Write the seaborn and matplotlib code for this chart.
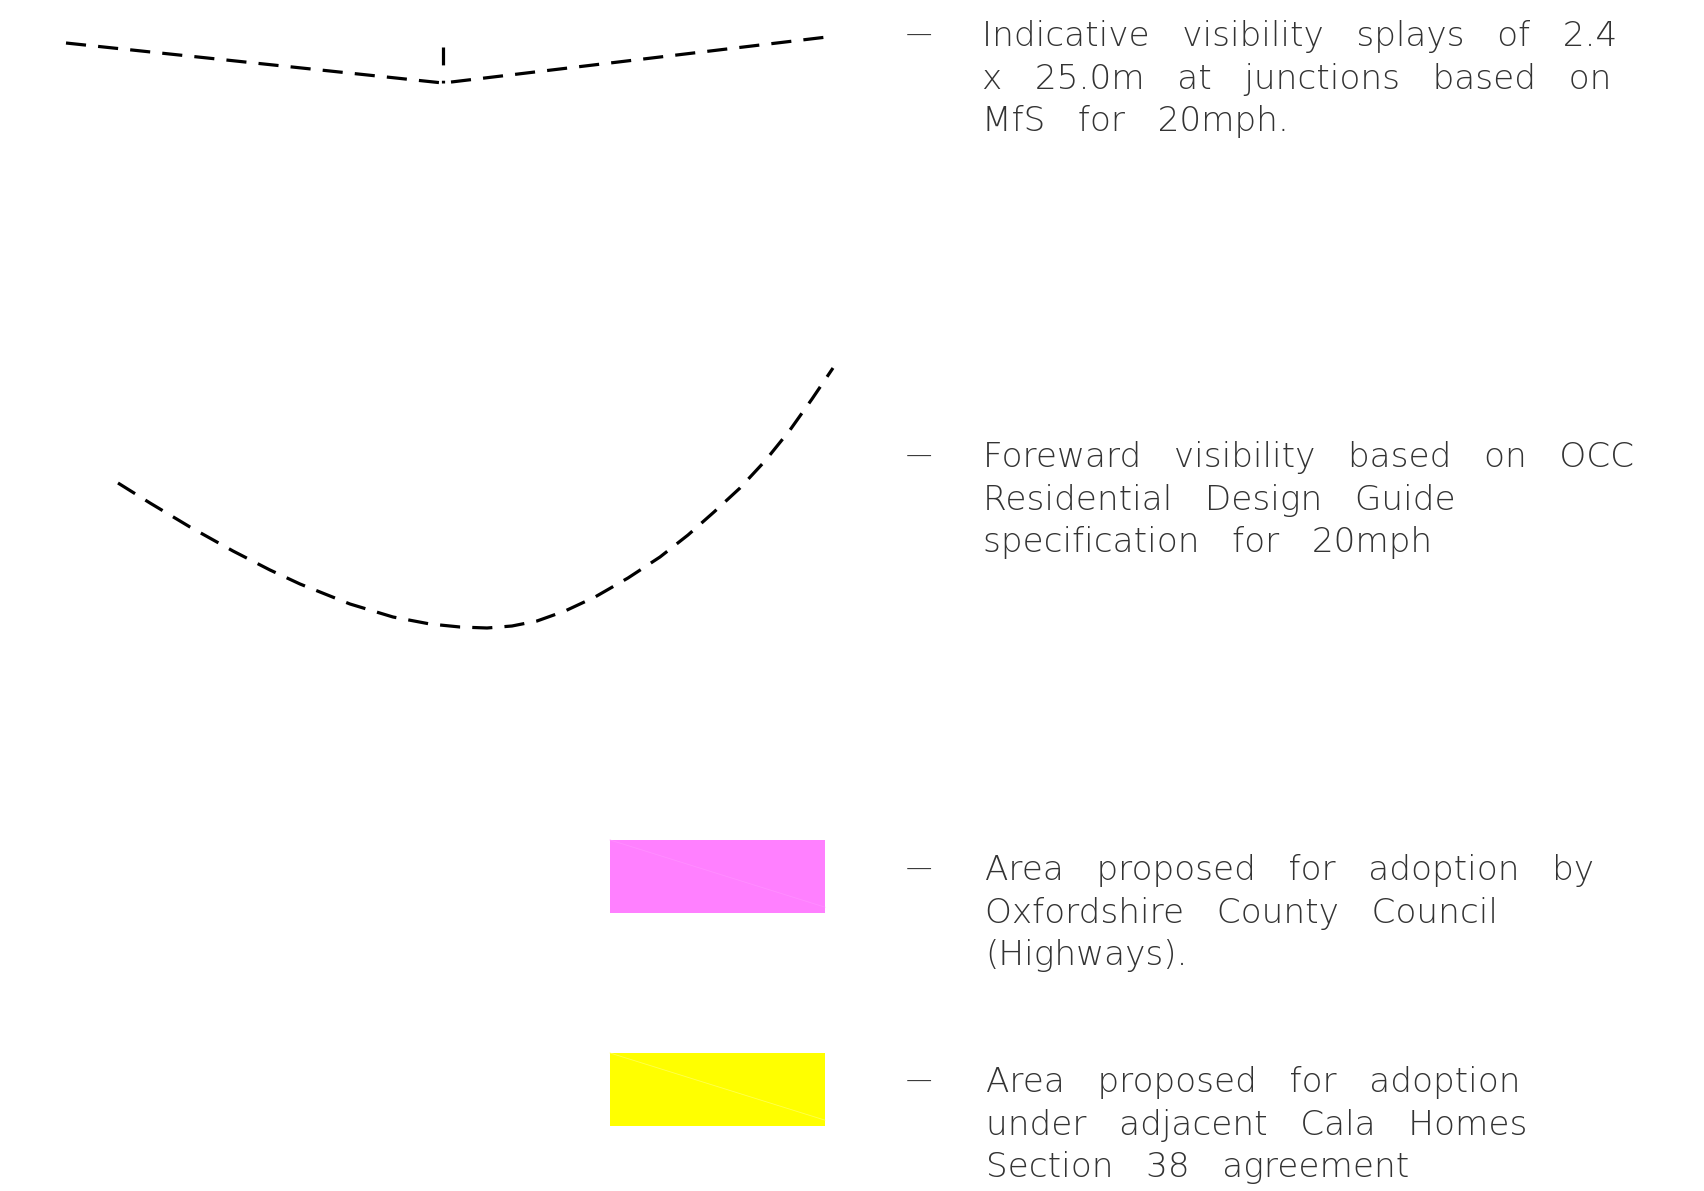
import matplotlib
matplotlib.use("Agg")
import matplotlib.pyplot as plt
import seaborn as sns
from matplotlib.patches import Rectangle

sns.set_theme(style="white")
plt.rcParams['font.family'] = ['DejaVu Sans']

W, H = 1704, 1191

# Symbol geometry (drawing units = pixels of the sheet, y downwards)
splay_x = [66, 443, 827]
splay_y = [43, 83, 37]
splay_tick_x = [443, 443]
splay_tick_y = [47, 83]

curve_x = [118, 150, 190, 233, 270, 300, 350, 393, 430, 460, 487, 512, 537, 565, 595,
           628, 660, 688, 714, 740, 765, 790, 812, 833]
curve_y = [483, 503, 527, 551, 570, 584, 604, 617, 624, 627, 628, 626, 621, 611, 597,
           578, 557, 535, 512, 488, 461, 430, 399, 368]

swatch_colors = ["#FF80FF", "#FFFF00"]
swatch_line_colors = ["#FF8EFF", "#FFFF50"]
swatch_x = [610, 610]
swatch_y = [840, 1053]
swatch_w = 215
swatch_h = 73

dash_x = 906
block_x = [982, 983, 985, 986]
block_baseline = [46, 467, 880, 1092]
blocks = [
    ["Indicative   visibility   splays   of   2.4",
     "x   25.0m   at   junctions   based   on",
     "MfS   for   20mph."],
    ["Foreward   visibility   based   on   OCC",
     "Residential   Design   Guide",
     "specification   for   20mph"],
    ["Area   proposed   for   adoption   by",
     "Oxfordshire   County   Council",
     "(Highways)."],
    ["Area   proposed   for   adoption",
     "under   adjacent   Cala   Homes",
     "Section   38   agreement"],
]
line_gap = 42.6

fig = plt.figure(figsize=(W / 100, H / 100), dpi=100)
ax = fig.add_axes([0, 0, 1, 1])
ax.set_xlim(0, W)
ax.set_ylim(H, 0)
ax.axis("off")

lw = 2.3
dash = (6.3, 3.8)
sns.lineplot(x=splay_x, y=splay_y, sort=False, estimator=None, ax=ax, color="black",
             lw=lw, linestyle=(0, dash))
sns.lineplot(x=splay_tick_x, y=splay_tick_y, sort=False, estimator=None, ax=ax,
             color="black", lw=lw, linestyle=(0, (5.6, 4.8)))
sns.lineplot(x=curve_x, y=curve_y, sort=False, estimator=None, ax=ax, color="black",
             lw=lw, linestyle=(0, dash))

for c, lc, x0, y0 in zip(swatch_colors, swatch_line_colors, swatch_x, swatch_y):
    ax.add_patch(Rectangle((x0, y0), swatch_w, swatch_h, facecolor=c, edgecolor="none"))
    ax.plot([x0, x0 + swatch_w], [y0, y0 + swatch_h * 0.92], color=lc, lw=0.6)

for bx, by, lines in zip(block_x, block_baseline, blocks):
    ax.text(dash_x, by - 3, "\u2014", ha="left", va="baseline", fontsize=19,
            color="#333333", fontweight="light")
    for i, t in enumerate(lines):
        ax.text(bx, by + i * line_gap, t, ha="left", va="baseline", fontsize=24.7,
                color="#333333", fontweight="light")

fig.savefig("out.png", dpi=100, facecolor="white")
